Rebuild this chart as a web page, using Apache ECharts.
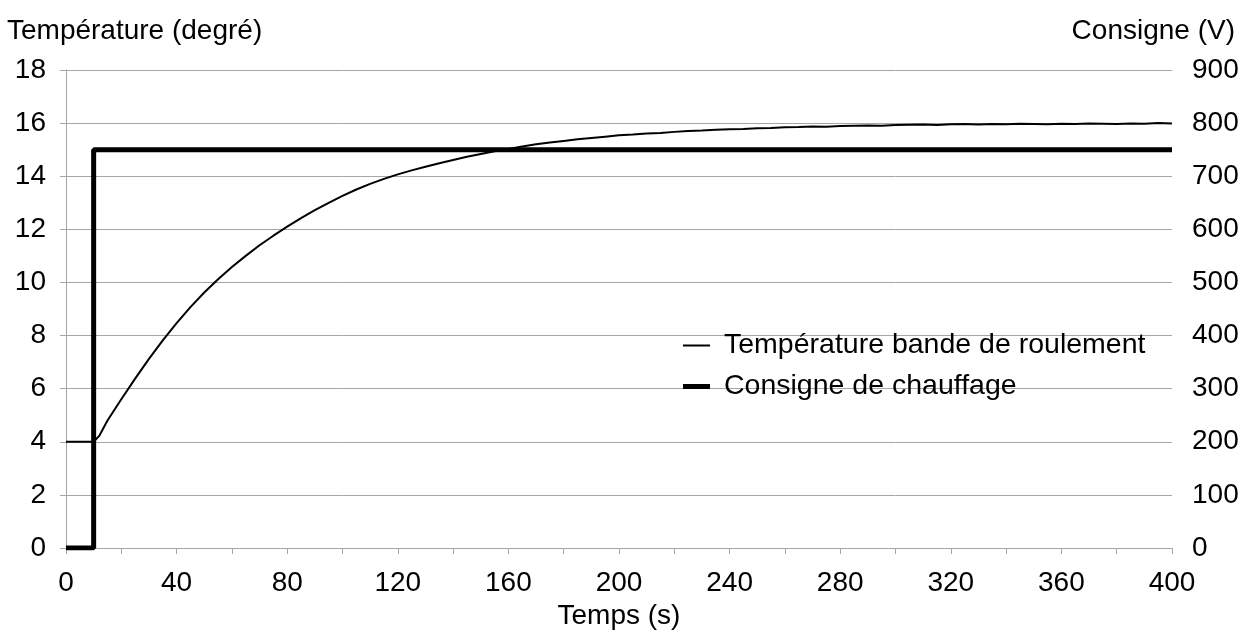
<!DOCTYPE html>
<html>
<head>
<meta charset="utf-8">
<script src="https://cdn.jsdelivr.net/npm/echarts@6/dist/echarts.min.js"></script>
<style>
  html, body { margin: 0; padding: 0; background: #fff; }
  #chart { width: 1251px; height: 637px; }
</style>
</head>
<body>
<div id="chart"></div>
<script>
  // temps (s) et température
  const tempTimes = [0, 5, 10, 12, 15, 20, 25, 30, 35, 40, 45, 50, 55, 60, 65, 70, 75, 80, 85, 90,
    95, 100, 105, 110, 115, 120, 125, 130, 135, 140, 145, 150, 155, 160, 165, 170, 175, 180, 185, 190,
    195, 200, 205, 210, 215, 220, 225, 230, 235, 240, 245, 250, 255, 260, 265, 270, 275, 280, 285, 290,
    295, 300, 305, 310, 315, 320, 325, 330, 335, 340, 345, 350, 355, 360, 365, 370, 375, 380, 385, 390,
    395, 400]
  const tempValues = [4.00, 4.00, 4.00, 4.22, 4.80, 5.60, 6.38, 7.12, 7.82, 8.47, 9.07, 9.62, 10.12, 10.58, 11.00, 11.40, 11.76, 12.10, 12.42, 12.72,
    13.00, 13.26, 13.50, 13.71, 13.90, 14.07, 14.22, 14.36, 14.49, 14.61, 14.73, 14.84, 14.94, 15.03, 15.12, 15.20, 15.27, 15.33, 15.39, 15.44,
    15.49, 15.54, 15.57, 15.61, 15.63, 15.67, 15.70, 15.72, 15.75, 15.77, 15.78, 15.81, 15.82, 15.84, 15.85, 15.87, 15.86, 15.89, 15.90, 15.91,
    15.90, 15.93, 15.94, 15.95, 15.93, 15.96, 15.97, 15.95, 15.97, 15.96, 15.98, 15.97, 15.96, 15.98, 15.97, 15.99, 15.98, 15.97, 15.99, 15.98,
    16.00, 15.99]

  // consigne de chauffage (V)
  const consigneTimes = [0, 10, 10, 400]
  const consigneValues = [0, 0, 750, 750]

  const leftTicks = [0, 2, 4, 6, 8, 10, 12, 14, 16, 18]
  const rightTicks = [0, 100, 200, 300, 400, 500, 600, 700, 800, 900]

  const font = 'Liberation Sans, Arial, sans-serif'
  const gray = '#a6a6a6'
  const fs = 28

  let chart = echarts.init(document.getElementById('chart'))
  let option = {
    animation: false,
    textStyle: {fontFamily: font},
    title: [
      {text: 'Température (degré)', left: 2, top: 12,
        textStyle: {fontFamily: font, fontSize: fs, fontWeight: 'normal', color: '#000'}},
      {text: 'Consigne (V)', right: 11, top: 12,
        textStyle: {fontFamily: font, fontSize: fs, fontWeight: 'normal', color: '#000'}}
    ],
    grid: {left: 66, right: 79, top: 70, bottom: 89},
    legend: {
      orient: 'vertical',
      left: 678,
      top: 326,
      itemWidth: 27,
      itemHeight: 14,
      itemGap: 12,
      symbolKeepAspect: true,
      textStyle: {fontFamily: font, fontSize: 28.5, color: '#000', padding: [0, 0, 0, 9]},
      data: [
        {name: 'Température bande de roulement', icon: 'path://M0,0H27V2H0Z'},
        {name: 'Consigne de chauffage', icon: 'path://M0,0H27V5H0Z'}
      ]
    },
    xAxis: {
      type: 'value',
      min: 0,
      max: 400,
      interval: 20,
      name: 'Temps (s)',
      nameLocation: 'middle',
      nameGap: 43,
      nameTextStyle: {fontFamily: font, fontSize: fs, color: '#000'},
      axisLine: {show: true, lineStyle: {color: gray, width: 1}},
      axisTick: {show: true, length: 6, lineStyle: {color: gray}},
      axisLabel: {
        margin: 21, fontSize: fs, color: '#000', fontFamily: font,
        formatter: v => (v % 40 === 0 ? String(v) : '')
      },
      splitLine: {show: false}
    },
    yAxis: [
      {
        type: 'value',
        min: leftTicks[0],
        max: leftTicks[leftTicks.length - 1],
        interval: 2,
        position: 'left',
        axisLine: {show: true, lineStyle: {color: gray, width: 1}},
        axisTick: {show: true, length: 6, lineStyle: {color: gray}},
        axisLabel: {margin: 20, fontSize: fs, color: '#000', fontFamily: font},
        splitLine: {show: true, lineStyle: {color: gray, width: 1}}
      },
      {
        type: 'value',
        min: rightTicks[0],
        max: rightTicks[rightTicks.length - 1],
        interval: 100,
        position: 'right',
        axisLine: {show: false},
        axisTick: {show: false},
        axisLabel: {margin: 20, fontSize: fs, color: '#000', fontFamily: font, padding: [0, 0, 8, 0]},
        splitLine: {show: false}
      }
    ],
    series: [
      {
        name: 'Température bande de roulement',
        type: 'line',
        yAxisIndex: 0,
        showSymbol: false,
        symbol: 'none',
        lineStyle: {color: '#000', width: 2},
        itemStyle: {color: '#000'},
        data: tempTimes.map((t, i) => [t, tempValues[i]]),
        z: 3
      },
      {
        name: 'Consigne de chauffage',
        type: 'line',
        yAxisIndex: 1,
        showSymbol: false,
        symbol: 'none',
        lineStyle: {color: '#000', width: 5},
        itemStyle: {color: '#000'},
        data: consigneTimes.map((t, i) => [t, consigneValues[i]]),
        z: 2
      }
    ]
  }
  chart.setOption(option)
</script>
</body>
</html>
